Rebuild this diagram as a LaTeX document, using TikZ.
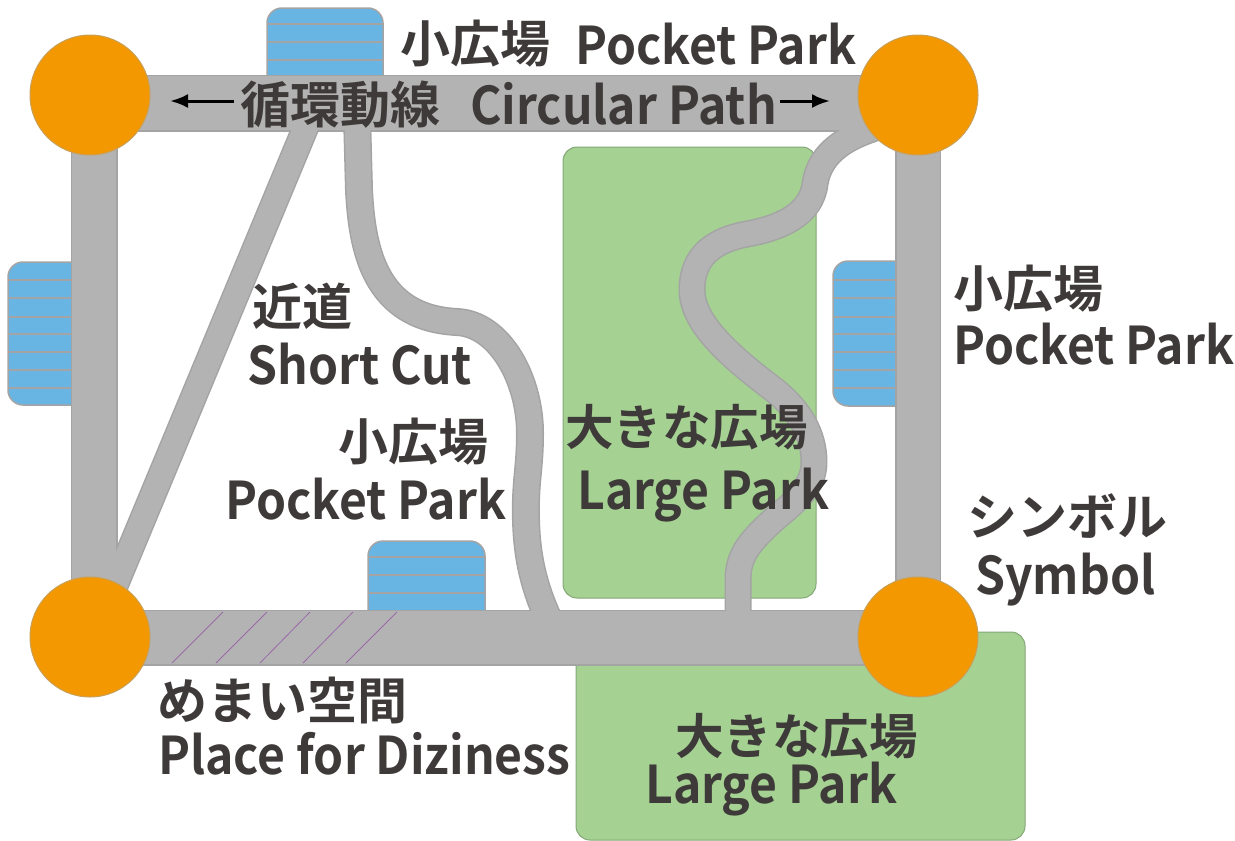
\documentclass[tikz,border=0pt]{standalone}
\usepackage{fontspec}
\setmainfont{Noto Sans CJK JP}
\newfontfamily\jp{Noto Sans CJK JP Bold}
\newfontfamily\lat{Noto Sans CJK JP Bold}[FakeStretch=0.925]
\usetikzlibrary{arrows.meta}
\definecolor{roadc}{HTML}{B3B3B3}
\definecolor{roade}{HTML}{A4A4A4}
\definecolor{orangec}{HTML}{F39800}
\definecolor{orangee}{HTML}{C8A05A}
\definecolor{bluec}{HTML}{68B5E4}
\definecolor{greenc}{HTML}{A5D193}
\definecolor{txt}{HTML}{3E3A39}
\definecolor{hatch}{HTML}{9A6AA8}
\tikzset{
  plaza/.style={draw=roade,line width=1.5pt,fill=bluec,rounded corners=15pt},
  plazaline/.style={draw=roade,line width=1.2pt},
  bigpark/.style={draw=black!20!greenc,line width=1pt,fill=greenc,rounded corners=14pt},
  roadedge/.style={draw=roade,line width=#1+3pt,line join=round},
  roadfill/.style={draw=roadc,line width=#1,line join=round},
  symbolc/.style={circle,draw=orangee,line width=1pt,fill=orangec,minimum size=120pt,inner sep=0pt},
  lab/.style={anchor=base west,text=txt,inner sep=0pt,font=\fontsize{52pt}{52pt}\selectfont\lat},
  jlab/.style={anchor=base west,text=txt,inner sep=0pt,font=\fontsize{50pt}{50pt}\selectfont\jp},
  jlabs/.style={jlab,font=\fontsize{48.5pt}{48.5pt}\selectfont\jp},
  hatchl/.style={draw=hatch,line width=0.8pt},
  arrowl/.style={draw=black,line width=3pt,-{Latex[length=18pt,width=14pt]}}
}
\begin{document}
\begin{tikzpicture}[x=1pt,y=-1pt]
\useasboundingbox (0,0) rectangle (1235,841);
% pocket parks
\draw[plaza] (267,80) -- (267,8) -- (383,8) -- (383,80);
\draw[plazaline] (267,24) -- (383,24) (267,42) -- (383,42) (267,60) -- (383,60);
\draw[plaza] (76,262) -- (8,262) -- (8,405) -- (76,405);
\foreach \y in {280,298,317,334,352,370,388} \draw[plazaline] (8,\y) -- (76,\y);
\draw[plaza] (895,261) -- (833,261) -- (833,406) -- (895,406);
\foreach \y in {280,298,317,334,352,370,388} \draw[plazaline] (833,\y) -- (897,\y);
\draw[plaza] (368,615) -- (368,541) -- (485,541) -- (485,615);
\draw[plazaline] (368,557) -- (485,557);
\draw[plazaline] (368,575) -- (485,575);
\draw[plazaline] (368,593) -- (485,593);
% large parks
\draw[bigpark] (563,147) rectangle (816,598);
\draw[bigpark] (576,632) rectangle (1025,840);
% roads
\newcommand{\shortcutpath}{(312,112) -- (107,605)}
\newcommand{\curvepath}{(357,115) -- (359,190) .. controls (362,250) and (375,318) .. (457,322) .. controls (500,324) and (530,380) .. (530,433) .. controls (530,470) and (525,480) .. (526,520) .. controls (527,560) and (535,590) .. (550,622)}
\newcommand{\meanderpath}{(885,125) .. controls (850,135) and (820,150) .. (815,184) .. controls (811,215) and (780,228) .. (747,234) .. controls (715,240) and (692,255) .. (692,290) .. controls (692,325) and (735,360) .. (773,389) .. controls (800,410) and (814,435) .. (814,462) .. controls (814,490) and (790,505) .. (770,523) .. controls (750,542) and (738,555) .. (738,580) -- (738,620)}
\draw[roadedge=24] \shortcutpath;
\draw[roadedge=25] \curvepath;
\draw[roadedge=24] \meanderpath;
\draw[roadedge=54] (90,103) -- (918,103);
\draw[roadedge=53] (90,637.5) -- (918,637.5);
\draw[roadedge=44] (94,95) -- (94,637);
\draw[roadedge=43] (918,95) -- (918,637);
\draw[roadfill=24] \shortcutpath;
\draw[roadfill=25] \curvepath;
\draw[roadfill=24] \meanderpath;
\draw[roadfill=54] (90,103) -- (918,103);
\draw[roadfill=53] (90,637.5) -- (918,637.5);
\draw[roadfill=44] (94,95) -- (94,637);
\draw[roadfill=43] (918,95) -- (918,637);
% hatch
\draw[hatchl] (172,663) -- (223,612);
\draw[hatchl] (216,663) -- (267,612);
\draw[hatchl] (260,663) -- (310,612);
\draw[hatchl] (303,663) -- (353,612);
\draw[hatchl] (346,663) -- (397,612);
% symbols
\node[symbolc] (tl) at (90,95) {};
\node[symbolc] (tr) at (918,95) {};
\node[symbolc] (bl) at (90,637) {};
\node[symbolc] (br) at (918,637) {};
% arrows
\coordinate (al1) at (234,101); \coordinate (al2) at (170,101);
\coordinate (ar1) at (780,101); \coordinate (ar2) at (830,101);
\draw[arrowl] (al1) -- (al2);
\draw[arrowl] (ar1) -- (ar2);
% labels
\node[jlab] (t1) at (400,62) {小広場};
\node[lab] (t2) at (575,64) {Pocket Park};
\node[jlab] (t3) at (240,123) {循環動線};
\node[lab] (t4) at (470,124) {Circular Path};
\node[jlab] (t5) at (953,307) {小広場};
\node[lab] (t6) at (953,364) {Pocket Park};
\node[jlab] (t7) at (252,325) {近道};
\node[lab] (t8) at (247,384) {Short Cut};
\node[jlab] (t9) at (338,460) {小広場};
\node[lab] (t10) at (225,519) {Pocket Park};
\node[jlabs] (t11) at (565,445) {大きな広場};
\node[lab] (t12) at (577,509) {Large Park};
\node[jlab] (t13) at (967,535) {シンボル};
\node[lab] (t14) at (975,594) {Symbol};
\node[jlab] (t15) at (157,719) {めまい空間};
\node[lab] (t16) at (158,774) {Place for Diziness};
\node[jlabs] (t17) at (675,754) {大きな広場};
\node[lab] (t18) at (645,803) {Large Park};
\end{tikzpicture}
\end{document}
